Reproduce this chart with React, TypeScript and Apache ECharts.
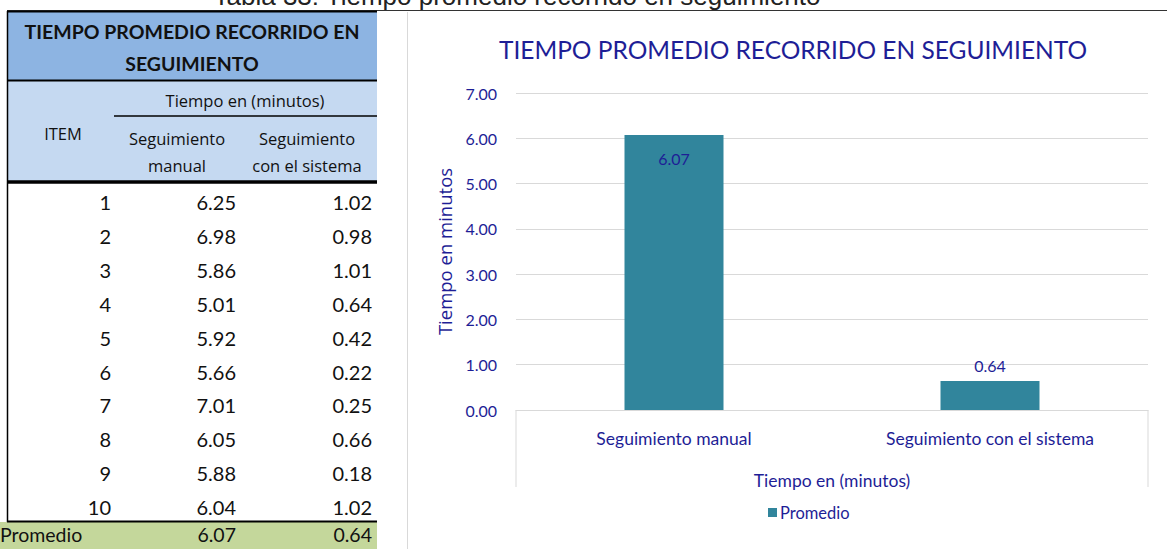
import React, { useEffect, useRef } from "react";
import * as echarts from "echarts";

// ---- data ----
const categories = ["Seguimiento manual", "Seguimiento con el sistema"];
const averages = [6.07, 0.64];
const itemNumbers = [1, 2, 3, 4, 5, 6, 7, 8, 9, 10];
const manualTimes = [6.25, 6.98, 5.86, 5.01, 5.92, 5.66, 7.01, 6.05, 5.88, 6.04];
const systemTimes = [1.02, 0.98, 1.01, 0.64, 0.42, 0.22, 0.25, 0.66, 0.18, 1.02];
const chartTitle = "TIEMPO PROMEDIO RECORRIDO EN SEGUIMIENTO";
const tableTitle = ["TIEMPO PROMEDIO RECORRIDO EN", "SEGUIMIENTO"];
const caption = "Tabla 33: Tiempo promedio recorrido en seguimiento";
const yAxisName = "Tiempo en minutos";
const xAxisName = "Tiempo en (minutos)";
const seriesName = "Promedio";

const NAVY = "#1e1e96";
const BAR = "#31859C";
const GRID = "#d9d9d9";
const TFONT = "Lato, 'Open Sans', sans-serif";
const HFONT = "'Open Sans', Lato, sans-serif";
const CFONT = "Lato, 'Open Sans', sans-serif";

function buildTable(): any[] {
  const els: any[] = [];
  const rect = (x: number, y: number, w: number, h: number, fill: string) =>
    els.push({ type: "rect", silent: true, shape: { x, y, width: w, height: h }, style: { fill } });
  const line = (x1: number, y1: number, x2: number, y2: number, w: number, c = "#000") =>
    els.push({ type: "line", silent: true, shape: { x1, y1, x2, y2 }, style: { stroke: c, lineWidth: w } });
  const text = (
    t: string,
    x: number,
    y: number,
    size: number,
    align = "center",
    weight = "normal",
    family = TFONT,
    color = "#111"
  ) =>
    els.push({
      type: "text",
      silent: true,
      x,
      y,
      style: { text: t, fontSize: size, fontFamily: family, fontWeight: weight, fill: color, align, verticalAlign: "middle" },
    });

  rect(8, 12, 369, 68, "#8DB4E2");
  rect(8, 81, 369, 100, "#C5D9F1");
  rect(0, 522, 377, 27, "#C4D79B");

  line(7, 10.5, 1167, 10.5, 1, "#333");
  line(7, 11.5, 377, 11.5, 2);
  line(7, 80.5, 377, 80.5, 2);
  line(114, 116, 377, 116, 1.5);
  line(7, 182, 377, 182, 3.5);
  line(7, 521.5, 377, 521.5, 2);
  line(7.5, 11, 7.5, 522, 1.5);

  // chart frame left edge
  line(407.5, 12, 407.5, 549, 1, GRID);

  text(tableTitle[0], 192, 31, 19.5, "center", "bold");
  text(tableTitle[1], 192, 63, 19.5, "center", "bold");
  text(xAxisName, 245, 100, 16.5, "center", "normal", HFONT);
  text("ITEM", 63, 133, 16.5, "center", "normal", HFONT);
  text("Seguimiento", 177, 138, 16.5, "center", "normal", HFONT);
  text("manual", 177, 165, 16.5, "center", "normal", HFONT);
  text("Seguimiento", 307, 138, 16.5, "center", "normal", HFONT);
  text("con el sistema", 307, 165, 16.5, "center", "normal", HFONT);

  itemNumbers.forEach((n, i) => {
    const y = 202 + i * 33.9;
    text(String(n), 111, y, 20, "right");
    text(manualTimes[i].toFixed(2), 236, y, 20, "right");
    text(systemTimes[i].toFixed(2), 372, y, 20, "right");
  });
  text(seriesName, 0, 534, 19.5, "left");
  text(averages[0].toFixed(2), 236, 534, 19.5, "right");
  text(averages[1].toFixed(2), 372, 534, 19.5, "right");

  // clipped caption at the very top
  els.push({
    type: "text",
    silent: true,
    x: 517,
    y: 9,
    style: {
      text: caption,
      fontSize: 26,
      fontFamily: "'Liberation Sans', Arial, sans-serif",
      fill: "#222",
      align: "center",
      verticalAlign: "bottom",
    },
  });

  // category-axis frame lines
  line(516, 410, 516, 487, 1, GRID);
  line(1148, 410, 1148, 487, 1, GRID);
  return els;
}

export default function App() {
  const ref = useRef<HTMLDivElement>(null);
  useEffect(() => {
    if (!ref.current) return;
    const chart = echarts.init(ref.current, undefined, { renderer: "svg" });
    chart.setOption({
      animation: false,
      backgroundColor: "#fff",
      title: {
        text: chartTitle,
        left: 788,
        top: 32,
        textAlign: "center",
        textStyle: { color: NAVY, fontSize: 24.5, fontWeight: "normal", fontFamily: CFONT },
      },
      legend: {
        data: [seriesName],
        left: 763,
        top: 499,
        icon: "rect",
        itemWidth: 9,
        itemHeight: 9,
        itemGap: 4,
        textStyle: { color: NAVY, fontSize: 16.5, fontFamily: CFONT, padding: [0, 0, 0, -2] },
      },
      grid: { left: 516, right: 19, top: 93, bottom: 139, containLabel: false },
      xAxis: {
        type: "category",
        data: categories,
        name: xAxisName,
        nameLocation: "middle",
        nameGap: 61,
        nameTextStyle: { color: NAVY, fontSize: 17.5, fontFamily: CFONT },
        axisLine: { lineStyle: { color: GRID } },
        axisTick: { show: false },
        axisLabel: { color: NAVY, fontSize: 17.5, fontFamily: CFONT, margin: 19 },
      },
      yAxis: {
        type: "value",
        min: 0,
        max: 7,
        interval: 1,
        name: yAxisName,
        nameLocation: "middle",
        nameRotate: 90,
        nameGap: 53,
        nameTextStyle: { color: NAVY, fontSize: 18.5, fontFamily: HFONT },
        axisLine: { show: false },
        axisTick: { show: false },
        splitLine: { lineStyle: { color: GRID } },
        axisLabel: {
          color: NAVY,
          fontSize: 16,
          fontFamily: CFONT,
          margin: 19,
          formatter: (v: number) => v.toFixed(2),
        },
      },
      series: [
        {
          name: seriesName,
          type: "bar",
          barWidth: 99,
          itemStyle: { color: BAR },
          data: averages.map((v, i) => ({
            value: v,
            label: {
              show: true,
              position: i === 0 ? "insideTop" : "top",
              distance: i === 0 ? 15 : 8,
              color: NAVY,
              fontSize: 16,
              fontFamily: CFONT,
              formatter: (p: any) => Number(p.value).toFixed(2),
            },
          })),
        },
      ],
      graphic: buildTable(),
    });
    return () => chart.dispose();
  }, []);
  return (
    <div
      ref={ref}
      style={{ position: "absolute", left: 0, top: 0, width: 1167, height: 549, background: "#fff" }}
    />
  );
}
